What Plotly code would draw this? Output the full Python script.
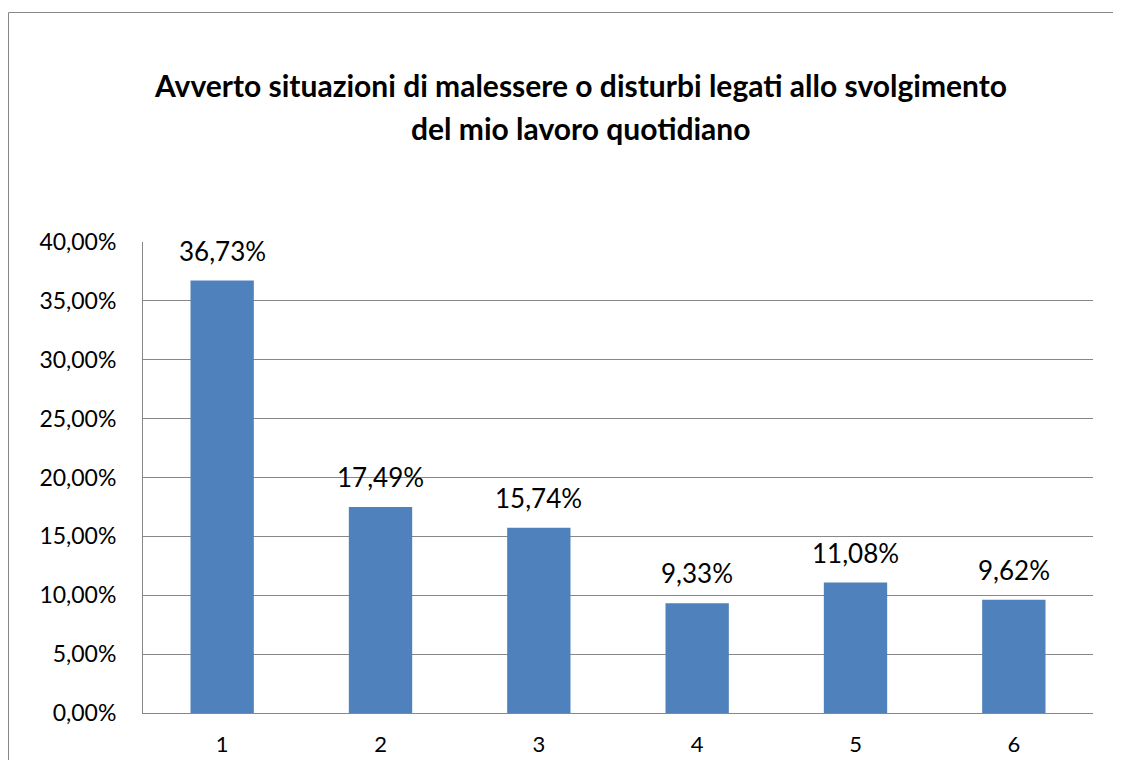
import plotly.graph_objects as go

categories = ["1", "2", "3", "4", "5", "6"]
values = [0.3673, 0.1749, 0.1574, 0.0933, 0.1108, 0.0962]
title_lines = ["Avverto situazioni di malessere o disturbi legati allo svolgimento",
               "del mio lavoro quotidiano"]

# page body has an 8px margin; work in screen pixels and shift
OFF = 8
W, H = 1121 - OFF, 760 - OFF
L, R, T, B = 143, 1093, 242, 713  # screen pixel positions of plot area

def px_x(p):
    return (p - L) / (R - L)

def px_y(p):
    return (B - p) / (B - T)

FONT = "Lato, Open Sans, sans-serif"
GRAY = "#878787"

fig = go.Figure(go.Bar(
    x=categories, y=values,
    marker=dict(color="#4F81BD", line=dict(width=0)),
    width=0.4,
    hoverinfo="x+y",
))

annotations = []
for i, v in enumerate(values):
    annotations.append(dict(
        x=i, y=v, xref="x", yref="y",
        text=f"{v*100:.2f}%".replace(".", ","),
        showarrow=False, xanchor="center", yanchor="bottom", yshift=12,
        font=dict(size=26, family=FONT, color="#000000"),
    ))

for line, yc in zip(title_lines, [85, 128]):
    annotations.append(dict(
        text="<b>" + line + "</b>",
        xref="paper", yref="paper",
        x=px_x(580), y=px_y(yc), xanchor="center", yanchor="middle",
        showarrow=False, font=dict(size=30, family=FONT, color="#000000"),
    ))

fig.update_layout(
    width=W, height=H,
    margin=dict(l=L - OFF, r=W - (R - OFF), t=T - OFF, b=H - (B - OFF), pad=0,
                autoexpand=False),
    paper_bgcolor="white", plot_bgcolor="white",
    separators=",.",
    showlegend=False,
    font=dict(family=FONT, color="#000000"),
    xaxis=dict(
        type="category", range=[-0.5, len(categories) - 0.5], automargin=False,
        showgrid=False, showline=True, linecolor=GRAY, linewidth=1,
        ticks="", tickfont=dict(size=22, family=FONT), ticklabelstandoff=12,
    ),
    yaxis=dict(
        range=[0, 0.4], dtick=0.05, tickformat=".2%", automargin=False,
        showgrid=True, gridcolor=GRAY, gridwidth=1,
        showline=True, linecolor=GRAY, linewidth=1,
        ticks="", tickfont=dict(size=23, family=FONT), ticklabelstandoff=21,
        zeroline=False,
    ),
    annotations=annotations,
    shapes=[dict(
        type="rect", xref="paper", yref="paper",
        x0=px_x(8.5), x1=px_x(1140), y0=px_y(780), y1=px_y(12.5),
        line=dict(color=GRAY, width=1), fillcolor="rgba(0,0,0,0)",
        layer="below",
    )],
)

fig.write_html("out.html")
